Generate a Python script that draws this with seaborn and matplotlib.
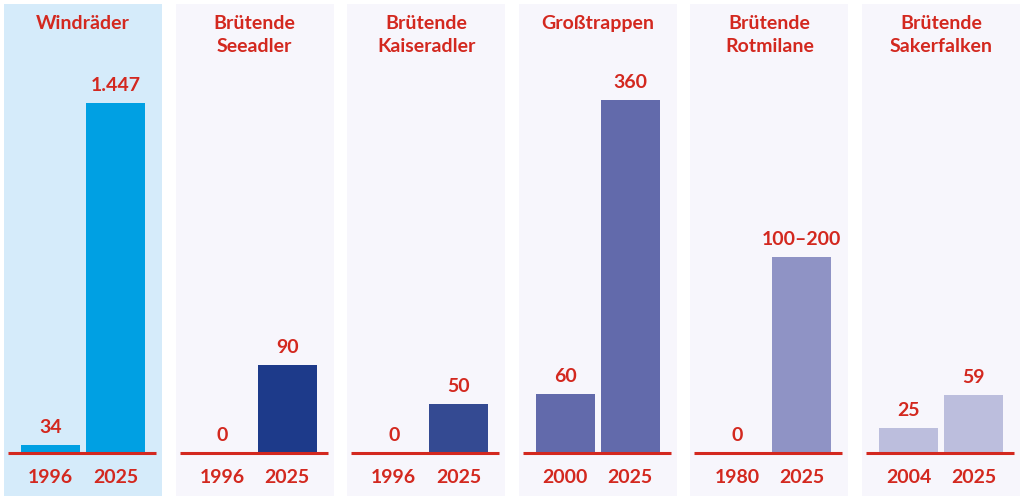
import pandas as pd
import matplotlib.pyplot as plt
import seaborn as sns

# --- data ---
titles = ["Windräder", "Brütende\nSeeadler", "Brütende\nKaiseradler",
          "Großtrappen", "Brütende\nRotmilane", "Brütende\nSakerfalken"]
years = [["1996", "2025"], ["1996", "2025"], ["1996", "2025"],
         ["2000", "2025"], ["1980", "2025"], ["2004", "2025"]]
values = [[34, 1447], [0, 90], [0, 50], [60, 360], [0, 200], [25, 59]]
value_labels = [["34", "1.447"], ["0", "90"], ["0", "50"],
                ["60", "360"], ["0", "100–200"], ["25", "59"]]
bar_colors = ["#00a0e3", "#1d3a8a", "#344a92", "#626aab", "#8f93c5", "#bcbedd"]
bg_colors = ["#d5ebfa", "#f7f6fc", "#f7f6fc", "#f7f6fc", "#f7f6fc", "#f7f6fc"]

RED = "#d3281f"

sns.set_theme(style="white")
plt.rcParams["font.family"] = ["Lato", "DejaVu Sans"]

W, H = 1023, 496
fig = plt.figure(figsize=(W / 100, H / 100), dpi=100)
fig.patch.set_facecolor("white")

for i in range(len(titles)):
    left = 4 + i * 171.6
    ax = fig.add_axes([left / W, 0, 158 / W, 492 / H])
    ax.set_facecolor(bg_colors[i])

    df = pd.DataFrame({"year": years[i], "value": values[i]})
    sns.barplot(data=df, x="year", y="value", color=bar_colors[i],
                saturation=1, width=0.905, linewidth=0, ax=ax, zorder=2)

    # first panel has its own scale
    px = 350 / 1447 if i == 0 else 353 / 360
    ax.set_ylim(-43 / px, 449 / px)
    ax.set_xlim(-0.715, 1.715)
    ax.hlines(0, -0.654, 1.623, color=RED, lw=2.2, zorder=3)

    for j, (v, lab) in enumerate(zip(values[i], value_labels[i])):
        ax.annotate(lab, (j, v), xytext=(0, 6.5), textcoords="offset points",
                    ha="center", va="bottom", color=RED,
                    fontsize=14, fontweight="bold")
        ax.text(j, 0.037, years[i][j], transform=ax.get_xaxis_transform(),
                ha="center", va="center", color=RED,
                fontsize=14, fontweight="bold")

    ax.text(0.5, 0.977, titles[i], transform=ax.transAxes, ha="center",
            va="top", linespacing=1.4, color=RED,
            fontsize=14, fontweight="bold")

    ax.set_xlabel("")
    ax.set_ylabel("")
    ax.set_xticks([])
    ax.set_yticks([])
    for s in ax.spines.values():
        s.set_visible(False)

fig.savefig("out.png", dpi=100)
